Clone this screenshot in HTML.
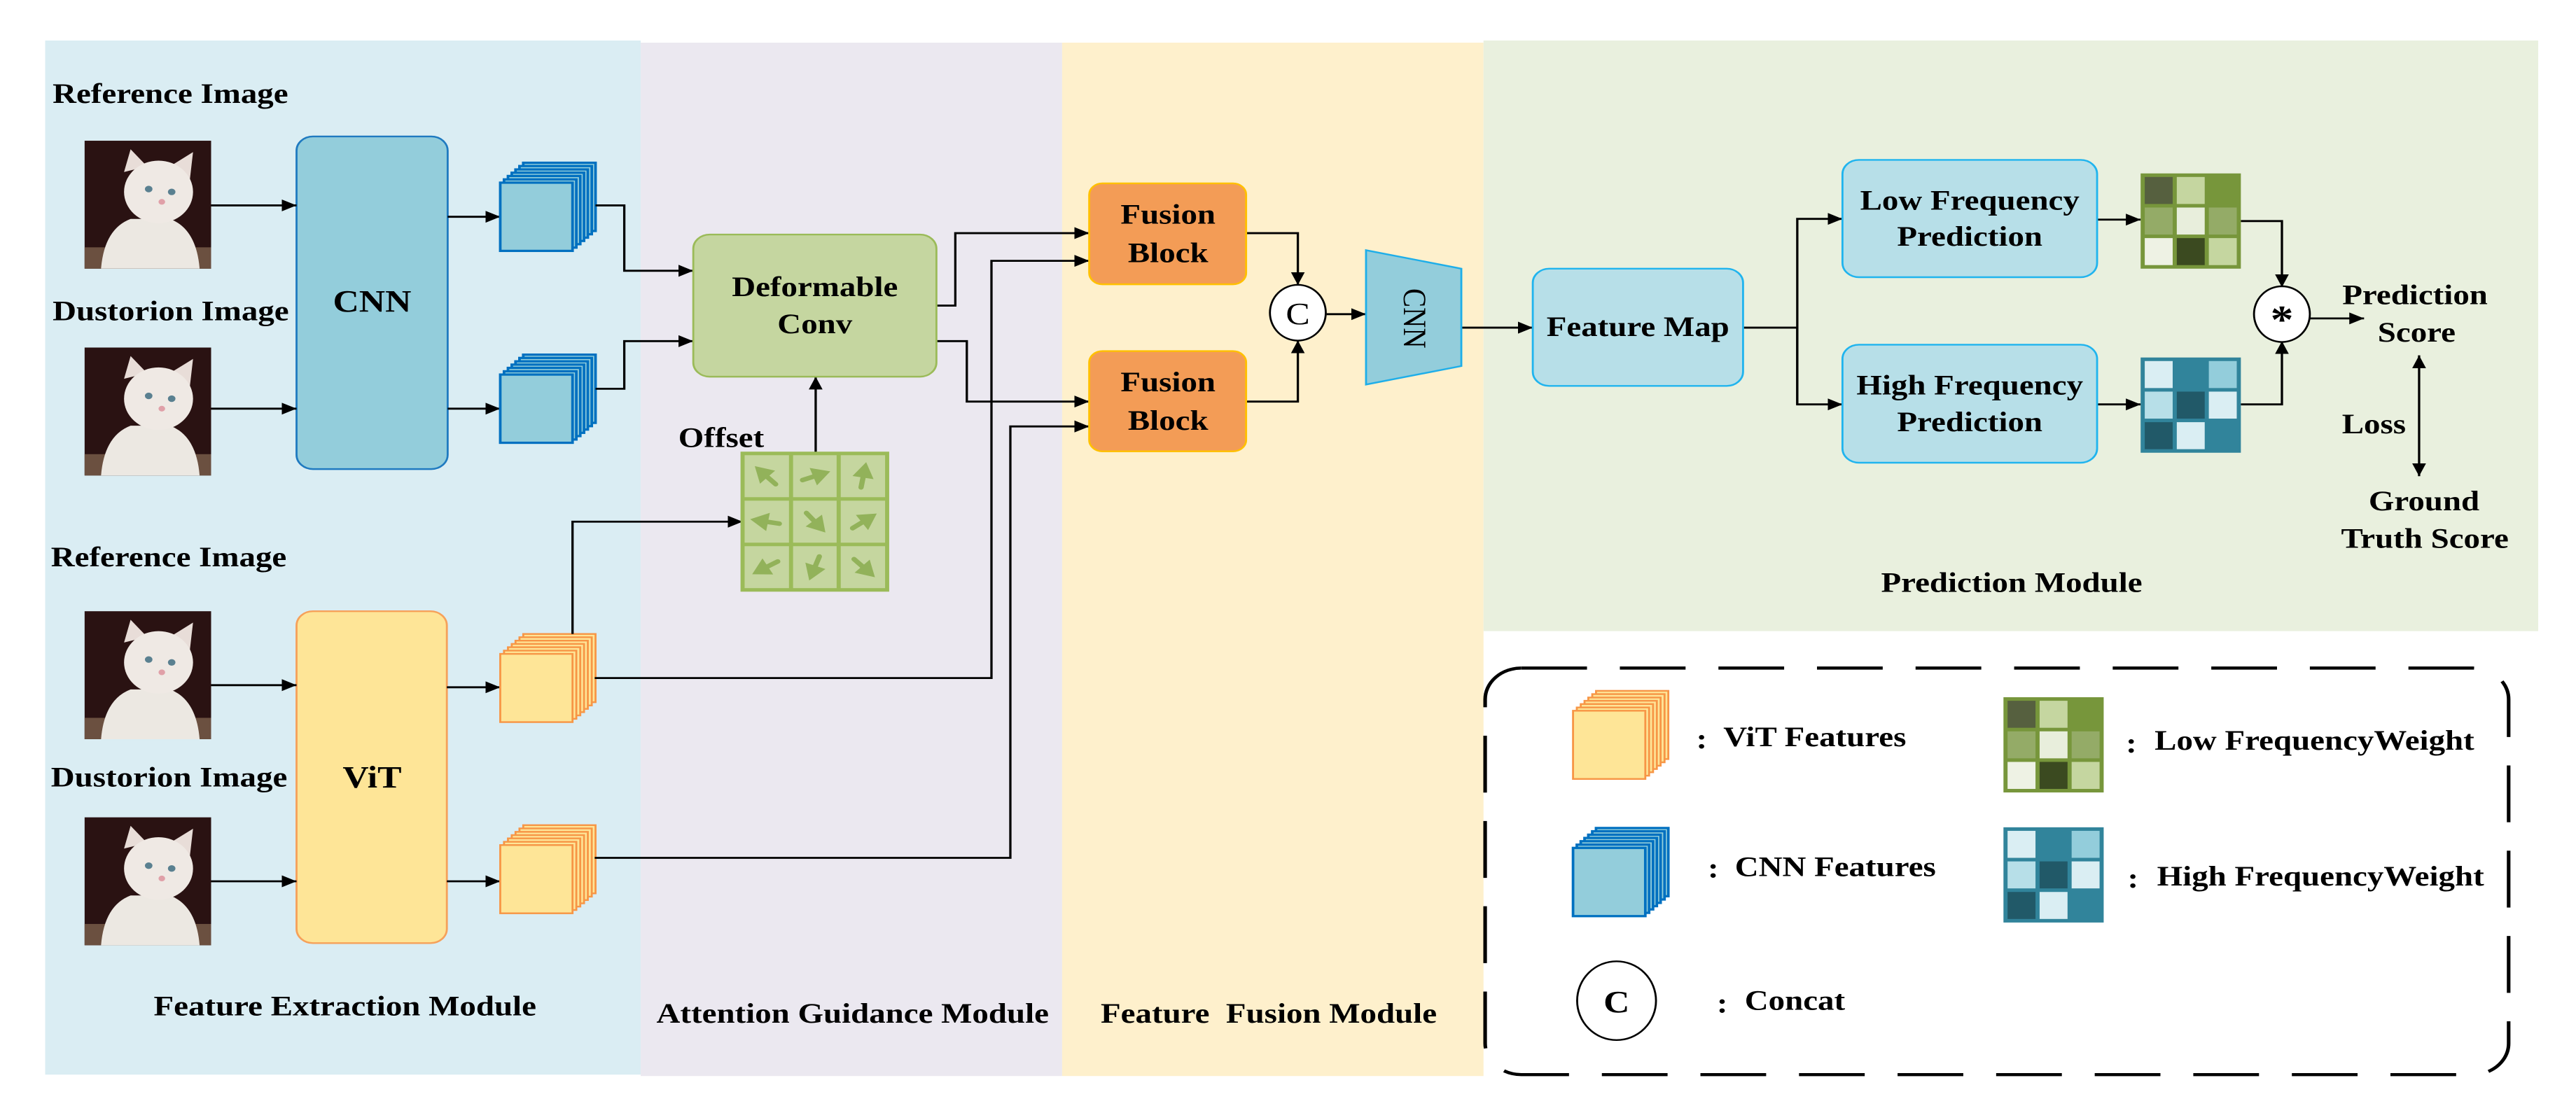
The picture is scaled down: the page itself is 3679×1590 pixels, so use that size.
<!DOCTYPE html>
<html><head><meta charset="utf-8"><style>
html,body{margin:0;padding:0;background:#fff;overflow:hidden}
svg{display:block}
text{font-family:"Liberation Serif","DejaVu Serif",serif;font-weight:bold;fill:#000}
</style></head><body>
<svg width="3679" height="1590" viewBox="0 0 1568 783" preserveAspectRatio="none" font-family="Liberation Serif, DejaVu Serif, serif" xmlns="http://www.w3.org/2000/svg">
<defs>
<marker id="ah" markerUnits="userSpaceOnUse" markerWidth="10" markerHeight="10" refX="9" refY="5" orient="auto">
<path d="M0,0.8 L9,5 L0,9.2 Z" fill="#000"/>
</marker>
<g id="cat">
<rect x="0" y="0" width="77" height="90" fill="#2a1212"/>
<rect x="0" y="75" width="77" height="15" fill="#6b5040"/>
<path d="M10,90 Q12,62 28,55 L52,55 Q68,62 70,90 Z" fill="#ece8e2"/>
<path d="M24,22 L28,6 L38,18 Z" fill="#e8ddd8"/>
<path d="M52,18 L66,8 L64,28 Z" fill="#e8ddd8"/>
<ellipse cx="45" cy="36" rx="21" ry="22" fill="#efe9e4"/>
<circle cx="39" cy="34" r="2.3" fill="#5a8090"/>
<circle cx="53" cy="36" r="2.3" fill="#5a8090"/>
<circle cx="47" cy="43" r="2" fill="#e0a0a8"/>
</g>
<g id="cnnstack">
<rect x="14" y="-14" width="44" height="48" fill="#93cddb" stroke="#0070c0" stroke-width="1.6"/>
<rect x="11.7" y="-11.7" width="44" height="48" fill="#93cddb" stroke="#0070c0" stroke-width="1.6"/>
<rect x="9.3" y="-9.3" width="44" height="48" fill="#93cddb" stroke="#0070c0" stroke-width="1.6"/>
<rect x="7" y="-7" width="44" height="48" fill="#93cddb" stroke="#0070c0" stroke-width="1.6"/>
<rect x="4.7" y="-4.7" width="44" height="48" fill="#93cddb" stroke="#0070c0" stroke-width="1.6"/>
<rect x="2.3" y="-2.3" width="44" height="48" fill="#93cddb" stroke="#0070c0" stroke-width="1.6"/>
<rect x="0" y="0" width="44" height="48" fill="#93cddb" stroke="#0070c0" stroke-width="1.6"/>
</g>
<g id="vitstack">
<rect x="14" y="-14" width="44" height="48" fill="#fee597" stroke="#f79646" stroke-width="1.2"/>
<rect x="11.7" y="-11.7" width="44" height="48" fill="#fee597" stroke="#f79646" stroke-width="1.2"/>
<rect x="9.3" y="-9.3" width="44" height="48" fill="#fee597" stroke="#f79646" stroke-width="1.2"/>
<rect x="7" y="-7" width="44" height="48" fill="#fee597" stroke="#f79646" stroke-width="1.2"/>
<rect x="4.7" y="-4.7" width="44" height="48" fill="#fee597" stroke="#f79646" stroke-width="1.2"/>
<rect x="2.3" y="-2.3" width="44" height="48" fill="#fee597" stroke="#f79646" stroke-width="1.2"/>
<rect x="0" y="0" width="44" height="48" fill="#fee597" stroke="#f79646" stroke-width="1.2"/>
</g>
<g id="lowg">
<rect x="0" y="0" width="61" height="67" fill="#77963b"/>
<rect x="2.5" y="2.5" width="17" height="19" fill="#56603f"/>
<rect x="22" y="2.5" width="17" height="19" fill="#c5d6a0"/>
<rect x="2.5" y="24" width="17" height="19" fill="#94ab67"/>
<rect x="22" y="24" width="17" height="19" fill="#e8eedc"/>
<rect x="41.5" y="24" width="17" height="19" fill="#94ab67"/>
<rect x="2.5" y="45.5" width="17" height="19" fill="#eef2e4"/>
<rect x="22" y="45.5" width="17" height="19" fill="#3b4a20"/>
<rect x="41.5" y="45.5" width="17" height="19" fill="#c5d6a0"/>
</g>
<g id="highg">
<rect x="0" y="0" width="61" height="67" fill="#31849b"/>
<rect x="2.5" y="2.5" width="17" height="19" fill="#daeef3"/>
<rect x="41.5" y="2.5" width="17" height="19" fill="#93cddb"/>
<rect x="2.5" y="24" width="17" height="19" fill="#b7dfe8"/>
<rect x="22" y="24" width="17" height="19" fill="#215968"/>
<rect x="41.5" y="24" width="17" height="19" fill="#daeef3"/>
<rect x="2.5" y="45.5" width="17" height="19" fill="#215968"/>
<rect x="22" y="45.5" width="17" height="19" fill="#daeef3"/>
</g>
<g id="ga"><line x1="-8" y1="0" x2="1" y2="0" stroke="#92b25a" stroke-width="3.2" stroke-linecap="round"/><path d="M-1,-6.5 L10,0 L-1,6.5 Z" fill="#92b25a"/></g>
</defs>

<rect x="27.5" y="28.5" width="362.5" height="727.5" fill="#daedf3"/>
<rect x="390" y="30" width="256.5" height="727" fill="#ebe8f0"/>
<rect x="646.5" y="30" width="256.5" height="727" fill="#fef0cc"/>
<rect x="903" y="28.5" width="642" height="415.5" fill="#e9f0de"/>

<text x="32" y="66" font-size="20" dominant-baseline="central">Reference Image</text>
<text x="32" y="219" font-size="20" dominant-baseline="central">Dustorion Image</text>
<text x="31" y="392" font-size="20" dominant-baseline="central">Reference Image</text>
<text x="31" y="547" font-size="20" dominant-baseline="central">Dustorion Image</text>

<use href="#cat" x="51.5" y="99"/>
<use href="#cat" x="51.5" y="244.5"/>
<use href="#cat" x="51.5" y="430"/>
<use href="#cat" x="51.5" y="575"/>

<rect x="180.5" y="96" width="92" height="234" rx="10" fill="#93cddb" stroke="#1f7ac0" stroke-width="1.2"/>
<text x="226.5" y="212" font-size="22" text-anchor="middle" dominant-baseline="central">CNN</text>
<rect x="180.5" y="430" width="91.5" height="233.5" rx="10" fill="#fee597" stroke="#f6a15a" stroke-width="1.2"/>
<text x="226.5" y="547" font-size="22" text-anchor="middle" dominant-baseline="central">ViT</text>

<g stroke="#000" stroke-width="1.4" fill="none">
<line x1="128.5" y1="144.5" x2="180.5" y2="144.5" marker-end="url(#ah)"/>
<line x1="128.5" y1="287.5" x2="180.5" y2="287.5" marker-end="url(#ah)"/>
<line x1="128.5" y1="482" x2="180.5" y2="482" marker-end="url(#ah)"/>
<line x1="128.5" y1="620" x2="180.5" y2="620" marker-end="url(#ah)"/>
<line x1="272.5" y1="152.5" x2="304.5" y2="152.5" marker-end="url(#ah)"/>
<line x1="272.5" y1="287.5" x2="304.5" y2="287.5" marker-end="url(#ah)"/>
<line x1="272" y1="483.5" x2="304.5" y2="483.5" marker-end="url(#ah)"/>
<line x1="272" y1="620" x2="304.5" y2="620" marker-end="url(#ah)"/>
</g>

<use href="#cnnstack" x="304.5" y="128.5"/>
<use href="#cnnstack" x="304.5" y="263.5"/>
<use href="#vitstack" x="304.5" y="460"/>
<use href="#vitstack" x="304.5" y="594.5"/>

<g stroke="#000" stroke-width="1.4" fill="none">
<polyline points="362.5,144.5 380,144.5 380,190.5 422,190.5" marker-end="url(#ah)"/>
<polyline points="362.5,273.5 380,273.5 380,240 422,240" marker-end="url(#ah)"/>
<polyline points="348.5,446 348.5,367 452,367" marker-end="url(#ah)"/>
<line x1="496.5" y1="319" x2="496.5" y2="265" marker-end="url(#ah)"/>
<polyline points="362,477 603.5,477 603.5,183.5 663,183.5" marker-end="url(#ah)"/>
<polyline points="362,603.5 615,603.5 615,300 663,300" marker-end="url(#ah)"/>
<polyline points="570,215 581.5,215 581.5,164 663,164" marker-end="url(#ah)"/>
<polyline points="570,240 588.5,240 588.5,282.5 663,282.5" marker-end="url(#ah)"/>
<polyline points="758.5,164 790,164 790,200.5" marker-end="url(#ah)"/>
<polyline points="758.5,282.5 790,282.5 790,239.5" marker-end="url(#ah)"/>
<line x1="807.5" y1="221" x2="831.5" y2="221" marker-end="url(#ah)"/>
<line x1="889.5" y1="230.5" x2="933" y2="230.5" marker-end="url(#ah)"/>
<line x1="1061" y1="230.5" x2="1094" y2="230.5"/>
<polyline points="1094,284.5 1094,154 1121.5,154" marker-end="url(#ah)"/>
<polyline points="1094,230 1094,284.5 1121.5,284.5" marker-end="url(#ah)"/>
<line x1="1276.5" y1="154.5" x2="1303" y2="154.5" marker-end="url(#ah)"/>
<line x1="1276.5" y1="284.5" x2="1303" y2="284.5" marker-end="url(#ah)"/>
<polyline points="1364,155.5 1389,155.5 1389,202" marker-end="url(#ah)"/>
<polyline points="1364,284.5 1389,284.5 1389,240" marker-end="url(#ah)"/>
<line x1="1406" y1="224" x2="1439" y2="224" marker-end="url(#ah)"/>
<line x1="1472.5" y1="292" x2="1472.5" y2="250" marker-end="url(#ah)"/>
<line x1="1472.5" y1="292" x2="1472.5" y2="335" marker-end="url(#ah)"/>
</g>

<rect x="422" y="165" width="148" height="100" rx="10" fill="#c5d6a0" stroke="#9bbb59" stroke-width="1.2"/>
<text x="496" y="202" font-size="20" text-anchor="middle" dominant-baseline="central">Deformable</text>
<text x="496" y="228" font-size="20" text-anchor="middle" dominant-baseline="central">Conv</text>
<text x="439" y="308" font-size="20" text-anchor="middle" dominant-baseline="central">Offset</text>

<rect x="452" y="319" width="88" height="96" fill="#c5d69f" stroke="#9bbb59" stroke-width="2.5"/>
<g stroke="#9bbb59" stroke-width="2.5">
<line x1="481.5" y1="319" x2="481.5" y2="415"/><line x1="510.5" y1="319" x2="510.5" y2="415"/>
<line x1="452" y1="351" x2="540" y2="351"/><line x1="452" y1="383" x2="540" y2="383"/>
</g>
<use href="#ga" transform="translate(466.5,335) rotate(-135)"/>
<use href="#ga" transform="translate(496,335) rotate(-20)"/>
<use href="#ga" transform="translate(525.5,335) rotate(-80)"/>
<use href="#ga" transform="translate(466.5,367) rotate(190)"/>
<use href="#ga" transform="translate(496,367) rotate(50)"/>
<use href="#ga" transform="translate(525.5,367) rotate(-35)"/>
<use href="#ga" transform="translate(466.5,399) rotate(150)"/>
<use href="#ga" transform="translate(496,399) rotate(110)"/>
<use href="#ga" transform="translate(525.5,399) rotate(45)"/>

<rect x="663" y="129" width="95.5" height="71" rx="8" fill="#f39c56" stroke="#ffc000" stroke-width="1.2"/>
<text x="711" y="151" font-size="20" text-anchor="middle" dominant-baseline="central">Fusion</text>
<text x="711" y="178" font-size="20" text-anchor="middle" dominant-baseline="central">Block</text>
<rect x="663" y="247" width="95.5" height="70.5" rx="8" fill="#f39c56" stroke="#ffc000" stroke-width="1.2"/>
<text x="711" y="269" font-size="20" text-anchor="middle" dominant-baseline="central">Fusion</text>
<text x="711" y="296" font-size="20" text-anchor="middle" dominant-baseline="central">Block</text>

<ellipse cx="790" cy="220" rx="17" ry="19.6" fill="#fff" stroke="#000" stroke-width="1.2"/>
<text x="790" y="221" font-size="22" text-anchor="middle" dominant-baseline="central" style="font-weight:normal">C</text>

<polygon points="831.5,176 889.5,189 889.5,257.5 831.5,270.5" fill="#93cddb" stroke="#1eaee9" stroke-width="1.2"/>
<text x="0" y="0" font-size="20" text-anchor="middle" dominant-baseline="central" style="font-weight:normal" transform="translate(861,224) rotate(90)">CNN</text>

<rect x="933" y="189" width="128" height="82.5" rx="10" fill="#b7dfe8" stroke="#20b4ee" stroke-width="1.2"/>
<text x="997" y="230" font-size="20" text-anchor="middle" dominant-baseline="central">Feature Map</text>

<rect x="1121.5" y="112.5" width="155" height="82.5" rx="10" fill="#b7dfe8" stroke="#20b4ee" stroke-width="1.2"/>
<text x="1199" y="141" font-size="20" text-anchor="middle" dominant-baseline="central">Low Frequency</text>
<text x="1199" y="166.5" font-size="20" text-anchor="middle" dominant-baseline="central">Prediction</text>
<rect x="1121.5" y="242.5" width="155" height="83" rx="10" fill="#b7dfe8" stroke="#20b4ee" stroke-width="1.2"/>
<text x="1199" y="271" font-size="20" text-anchor="middle" dominant-baseline="central">High Frequency</text>
<text x="1199" y="297" font-size="20" text-anchor="middle" dominant-baseline="central">Prediction</text>

<use href="#lowg" x="1303" y="122"/>
<use href="#highg" x="1303" y="251.5"/>

<ellipse cx="1389" cy="221" rx="17" ry="19.6" fill="#fff" stroke="#000" stroke-width="1.2"/>
<text x="1389" y="225" font-size="28" text-anchor="middle" dominant-baseline="central">*</text>

<text x="1470" y="207.5" font-size="20" text-anchor="middle" dominant-baseline="central">Prediction</text>
<text x="1471" y="234" font-size="20" text-anchor="middle" dominant-baseline="central">Score</text>
<text x="1445" y="298.5" font-size="20" text-anchor="middle" dominant-baseline="central">Loss</text>
<text x="1475.5" y="352.5" font-size="20" text-anchor="middle" dominant-baseline="central">Ground</text>
<text x="1476" y="379" font-size="20" text-anchor="middle" dominant-baseline="central">Truth Score</text>
<text x="1224.5" y="410" font-size="20" text-anchor="middle" dominant-baseline="central">Prediction Module</text>

<text x="210" y="708" font-size="20" text-anchor="middle" dominant-baseline="central">Feature Extraction Module</text>
<text x="519" y="713" font-size="20" text-anchor="middle" dominant-baseline="central">Attention Guidance Module</text>
<text x="670" y="713" font-size="20" dominant-baseline="central" xml:space="preserve">Feature  Fusion Module</text>

<rect x="904" y="470" width="623" height="286" rx="22" fill="none" stroke="#000" stroke-width="2.2" stroke-dasharray="40,20"/>
<use href="#vitstack" x="957.5" y="500"/>
<text x="1032.5" y="520" font-size="20" dominant-baseline="central">:</text>
<text x="1049" y="518.5" font-size="20" dominant-baseline="central">ViT Features</text>
<use href="#cnnstack" x="957.5" y="596.5"/>
<text x="1039.5" y="611" font-size="20" dominant-baseline="central">:</text>
<text x="1056" y="610" font-size="20" dominant-baseline="central">CNN Features</text>
<ellipse cx="984" cy="704" rx="24" ry="27.7" fill="#fff" stroke="#000" stroke-width="1.2"/>
<text x="984" y="705" font-size="22" text-anchor="middle" dominant-baseline="central">C</text>
<text x="1045" y="706" font-size="20" dominant-baseline="central">:</text>
<text x="1062" y="704" font-size="20" dominant-baseline="central">Concat</text>
<use href="#lowg" x="1219.5" y="490.5"/>
<text x="1294" y="523" font-size="20" dominant-baseline="central">:</text>
<text x="1311.5" y="521" font-size="20" dominant-baseline="central">Low FrequencyWeight</text>
<use href="#highg" x="1219.5" y="582"/>
<text x="1295" y="618" font-size="20" dominant-baseline="central">:</text>
<text x="1313" y="616.5" font-size="20" dominant-baseline="central">High FrequencyWeight</text>
</svg>
</body></html>
